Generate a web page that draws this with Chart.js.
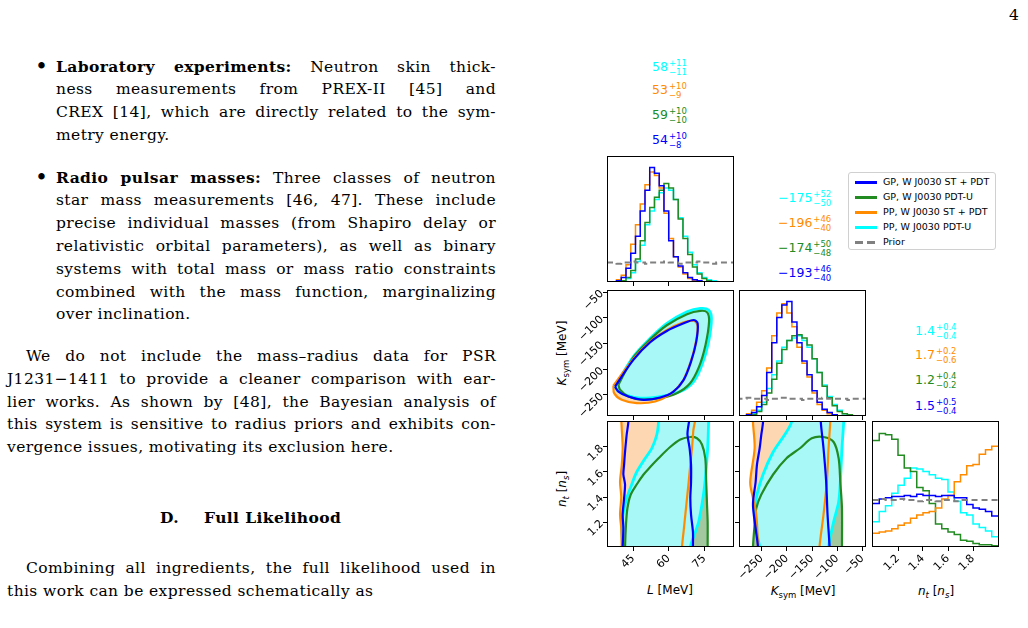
<!DOCTYPE html>
<html>
<head>
<meta charset="utf-8">
<script src="https://cdn.jsdelivr.net/npm/chart.js@4.4.1/dist/chart.umd.min.js"></script>
<style>
  body { margin: 0; width: 1028px; height: 628px; overflow: hidden; position: relative; background: #fff; }
  .t { position: absolute; height: 23px; line-height: 23px; font-family: "DejaVu Serif", serif; font-size: 15.5px; letter-spacing: 0.4px; white-space: nowrap; color: #000; }
  .bul { position: absolute; font-family: "DejaVu Serif", serif; font-size: 22px; line-height: 23px; }
  canvas { position: absolute; }
  .ann { position: absolute; font-family: "DejaVu Sans", sans-serif; font-size: 12.5px; line-height: 18px; white-space: nowrap; }
  .ud { display: inline-block; vertical-align: middle; font-size: 8.5px; line-height: 9px; margin-left: 1px; }
  .ax { position: absolute; font-family: "DejaVu Sans", sans-serif; font-size: 12px; white-space: nowrap; transform: translate(-50%, -50%); }
  .ax sub { font-size: 8.5px; vertical-align: -3px; line-height: 0; }
  #legend { position: absolute; left: 848px; top: 172px; width: 146px; height: 76px; border: 1px solid #d0d0d0; border-radius: 3px; background: #fff; font-family: "DejaVu Sans", sans-serif; font-size: 9.5px; }
  .lg { position: absolute; left: 0; height: 12px; line-height: 12px; white-space: nowrap; }
  .hd { position: absolute; left: 6px; top: 5px; width: 22px; height: 3px; }
  .lg span.tx { position: absolute; left: 34px; top: 0; }
</style>
</head>
<body>

<div class="t" style="left:1009px;top:4px">4</div>

<div class="bul" style="left:35px;top:54.5px">•</div>
<div class="t" data-w="440" style="left:56px;top:54.5px"><b>Laboratory experiments:</b> Neutron skin thick-</div>
<div class="t" data-w="440" style="left:56px;top:77.5px">ness measurements from PREX-II [45] and</div>
<div class="t" data-w="440" style="left:56px;top:100.5px">CREX [14], which are directly related to the sym-</div>
<div class="t" style="left:56px;top:123.5px">metry energy.</div>

<div class="bul" style="left:35px;top:165.5px">•</div>
<div class="t" data-w="440" style="left:56px;top:165.5px"><b>Radio pulsar masses:</b> Three classes of neutron</div>
<div class="t" data-w="440" style="left:56px;top:188.5px">star mass measurements [46, 47]. These include</div>
<div class="t" data-w="440" style="left:56px;top:211.5px">precise individual masses (from Shapiro delay or</div>
<div class="t" data-w="440" style="left:56px;top:234.5px">relativistic orbital parameters), as well as binary</div>
<div class="t" data-w="440" style="left:56px;top:257.5px">systems with total mass or mass ratio constraints</div>
<div class="t" data-w="440" style="left:56px;top:280.5px">combined with the mass function, marginalizing</div>
<div class="t" style="left:56px;top:303px">over inclination.</div>

<div class="t" data-w="470" style="left:26px;top:344.5px">We do not include the mass–radius data for PSR</div>
<div class="t" data-w="489" style="left:7px;top:367.5px">J1231−1411 to provide a cleaner comparison with ear-</div>
<div class="t" data-w="489" style="left:7px;top:390.5px">lier works. As shown by [48], the Bayesian analysis of</div>
<div class="t" data-w="489" style="left:7px;top:412.5px">this system is sensitive to radius priors and exhibits con-</div>
<div class="t" style="left:7px;top:435.5px">vergence issues, motivating its exclusion here.</div>

<div class="t" style="left:160px;top:505.5px"><b>D.</b></div>
<div class="t" style="left:204px;top:505.5px"><b>Full Likelihood</b></div>

<div class="t" data-w="470" style="left:26px;top:556.5px">Combining all ingredients, the full likelihood used in</div>
<div class="t" style="left:7px;top:579.5px">this work can be expressed schematically as</div>

<div id="legend"></div>

<div class="ax" style="left:670px;top:590px"><i>L</i> [MeV]</div>
<div class="ax" style="left:803px;top:591px"><i>K</i><sub>sym</sub> [MeV]</div>
<div class="ax" style="left:936px;top:591px"><i>n</i><sub><i>t</i></sub> [<i>n</i><sub><i>s</i></sub>]</div>
<div class="ax" style="left:562px;top:353px;transform:translate(-50%,-50%) rotate(-90deg)"><i>K</i><sub>sym</sub> [MeV]</div>
<div class="ax" style="left:562px;top:489px;transform:translate(-50%,-50%) rotate(-90deg)"><i>n</i><sub><i>t</i></sub> [<i>n</i><sub><i>s</i></sub>]</div>

<script>
// ---- series ----
const seriesNames = ['GP, W J0030 ST + PDT', 'GP, W J0030 PDT-U', 'PP, W J0030 ST + PDT', 'PP, W J0030 PDT-U', 'Prior'];
const BLUE = '#0000ff', GREEN = '#228b22', ORANGE = '#ff8c00', CYAN = '#00ffff', GREY = '#808080';

// ---- median +/- values (order: cyan, orange, green, blue) ----
const statL = [['58', '+11', '−11'], ['53', '+10', '−9'], ['59', '+10', '−10'], ['54', '+10', '−8']];
const statK = [['−175', '+52', '−50'], ['−196', '+46', '−40'], ['−174', '+50', '−48'], ['−193', '+46', '−40']];
const statN = [['1.4', '+0.4', '−0.4'], ['1.7', '+0.2', '−0.6'], ['1.2', '+0.4', '−0.2'], ['1.5', '+0.5', '−0.4']];

// ---- tick labels ----
const lTicks = [45, 60, 75];
const kTicks = [-250, -200, -150, -100, -50];
const nTicks = [1.2, 1.4, 1.6, 1.8];

// ---- 1D histograms: L [MeV] ----
const lEdges = [34, 36, 38, 40, 42, 44, 46, 48, 50, 52, 54, 56, 58, 60, 62, 64, 66, 68, 70, 72, 74, 76, 78, 80, 82, 84, 86, 88];
const lBlue   = [0, 0, 0.01, 0.04, 0.12, 0.25, 0.40, 0.62, 0.80, 1.00, 0.95, 0.84, 0.62, 0.36, 0.22, 0.14, 0.08, 0.04, 0.02, 0.01, 0, 0, 0, 0, 0, 0, 0];
const lOrange = [0, 0, 0.02, 0.06, 0.15, 0.33, 0.50, 0.68, 0.85, 0.96, 0.93, 0.82, 0.60, 0.38, 0.22, 0.13, 0.07, 0.03, 0.01, 0, 0, 0, 0, 0, 0, 0, 0];
const lGreen  = [0, 0, 0, 0.01, 0.04, 0.10, 0.20, 0.36, 0.52, 0.65, 0.74, 0.80, 0.86, 0.82, 0.72, 0.55, 0.38, 0.24, 0.13, 0.07, 0.03, 0.01, 0, 0, 0, 0, 0];
const lCyan   = [0, 0, 0, 0, 0.03, 0.08, 0.18, 0.32, 0.50, 0.62, 0.72, 0.78, 0.82, 0.80, 0.72, 0.56, 0.40, 0.26, 0.15, 0.08, 0.04, 0.02, 0.01, 0, 0, 0, 0];
const lPrior  = [0.17, 0.17, 0.16, 0.17, 0.17, 0.18, 0.17, 0.17, 0.16, 0.17, 0.17, 0.17, 0.18, 0.17, 0.17, 0.16, 0.17, 0.17, 0.17, 0.18, 0.17, 0.17, 0.16, 0.17, 0.17, 0.17, 0.17];

// ---- 1D histograms: Ksym [MeV] ----
const kEdges = [-300, -290, -280, -270, -260, -250, -240, -230, -220, -210, -200, -190, -180, -170, -160, -150, -140, -130, -120, -110, -100, -90, -80, -70, -60, -50, -40];
const kBlue   = [0, 0, 0.01, 0.03, 0.08, 0.18, 0.38, 0.64, 0.86, 0.97, 1.00, 0.82, 0.64, 0.48, 0.36, 0.22, 0.12, 0.06, 0.03, 0.01, 0, 0, 0, 0, 0, 0];
const kOrange = [0, 0, 0.02, 0.05, 0.12, 0.22, 0.42, 0.70, 0.90, 0.98, 0.90, 0.78, 0.60, 0.46, 0.34, 0.20, 0.10, 0.05, 0.02, 0.01, 0, 0, 0, 0, 0, 0];
const kGreen  = [0, 0, 0, 0.01, 0.04, 0.10, 0.20, 0.32, 0.46, 0.58, 0.66, 0.70, 0.71, 0.68, 0.62, 0.50, 0.38, 0.26, 0.16, 0.09, 0.04, 0.02, 0.01, 0, 0, 0];
const kCyan   = [0, 0, 0, 0.02, 0.05, 0.12, 0.24, 0.36, 0.48, 0.60, 0.66, 0.68, 0.70, 0.66, 0.60, 0.50, 0.38, 0.27, 0.17, 0.10, 0.05, 0.02, 0.01, 0, 0, 0];
const kPrior  = [0.15, 0.15, 0.16, 0.15, 0.15, 0.15, 0.14, 0.15, 0.15, 0.16, 0.15, 0.15, 0.15, 0.14, 0.15, 0.15, 0.15, 0.16, 0.15, 0.15, 0.15, 0.15, 0.14, 0.15, 0.15, 0.15];

// ---- 1D histograms: n_t [n_s] ----
const nEdges = [1.00, 1.05, 1.10, 1.15, 1.20, 1.25, 1.30, 1.35, 1.40, 1.45, 1.50, 1.55, 1.60, 1.65, 1.70, 1.75, 1.80, 1.85, 1.90, 1.95, 2.00];
const nBlue   = [0.38, 0.42, 0.43, 0.44, 0.44, 0.45, 0.44, 0.46, 0.45, 0.45, 0.44, 0.45, 0.45, 0.43, 0.43, 0.37, 0.34, 0.33, 0.31, 0.27];
const nOrange = [0.12, 0.13, 0.14, 0.16, 0.19, 0.21, 0.25, 0.28, 0.30, 0.31, 0.34, 0.42, 0.45, 0.57, 0.63, 0.71, 0.72, 0.81, 0.85, 0.88];
const nGreen  = [0.93, 0.99, 0.98, 0.94, 0.80, 0.69, 0.66, 0.52, 0.49, 0.38, 0.20, 0.16, 0.13, 0.11, 0.06, 0.05, 0.03, 0.02, 0.02, 0.01];
const nCyan   = [0.22, 0.31, 0.36, 0.47, 0.54, 0.60, 0.69, 0.68, 0.66, 0.63, 0.60, 0.59, 0.48, 0.40, 0.30, 0.28, 0.20, 0.17, 0.14, 0.09];
const nPrior  = [0.41, 0.42, 0.41, 0.41, 0.42, 0.41, 0.41, 0.40, 0.41, 0.41, 0.40, 0.41, 0.41, 0.40, 0.41, 0.41, 0.41, 0.41, 0.41, 0.41];

// ---- 2D credible contours (L, Ksym) ----
const lkBlue   = [[37.4, -233.7], [45.1, -181.9], [52.2, -147.6], [59.2, -125.7], [66.3, -110.8], [70.5, -104.3], [72.2, -110.8], [71.6, -146.4], [69.4, -185.2], [66.3, -220.7], [62.0, -243.4], [56.4, -255.0], [49.4, -259.5], [43.0, -253.1], [38.8, -243.4]];
const lkOrange = [[36.7, -231.7], [45.1, -180.0], [52.2, -146.4], [59.2, -123.8], [66.3, -108.8], [70.8, -106.3], [72.2, -117.3], [71.2, -152.8], [68.8, -191.6], [65.6, -225.3], [60.6, -248.5], [54.3, -262.8], [46.5, -266.0], [40.2, -259.5], [37.0, -246.6]];
const lkGreen  = [[38.8, -230.4], [45.1, -177.0], [52.2, -142.0], [59.2, -114.5], [67.7, -93.0], [73.3, -86.5], [76.2, -89.5], [77.0, -107.6], [75.5, -152.8], [72.8, -194.9], [69.0, -227.2], [63.4, -246.6], [56.4, -256.3], [48.7, -259.0], [43.0, -253.1], [39.5, -240.1]];
const lkCyan   = [[37.4, -233.7], [45.1, -175.5], [52.2, -139.9], [59.2, -110.8], [67.7, -88.2], [73.3, -81.7], [76.8, -84.9], [78.0, -101.1], [76.8, -146.4], [74.0, -191.6], [70.5, -224.0], [64.9, -243.4], [56.4, -253.1], [48.0, -256.3], [41.6, -249.8], [38.1, -240.1]];

// ---- 2D credible contours (L, n_t) ----
const lnBlue   = [[43.0, 2.1], [43.0, 2.0], [42.3, 1.9], [41.6, 1.76], [41.2, 1.66], [40.9, 1.58], [41.6, 1.5], [41.2, 1.39], [40.6, 1.26], [40.9, 1.15], [40.6, 1.0], [40.6, 0.9], [70.2, 0.9], [70.2, 1.0], [70.2, 1.12], [69.4, 1.26], [69.1, 1.39], [69.4, 1.52], [69.4, 1.66], [68.8, 1.79], [67.9, 1.9], [67.9, 2.1]];
const lnOrange = [[39.8, 2.1], [40.2, 1.95], [40.6, 1.79], [40.2, 1.65], [39.5, 1.52], [40.0, 1.40], [39.5, 1.26], [40.0, 1.15], [40.2, 1.0], [40.2, 0.9], [65.6, 0.9], [65.6, 1.0], [66.3, 1.13], [67.0, 1.26], [67.7, 1.39], [68.4, 1.52], [69.1, 1.66], [69.8, 1.79], [70.3, 1.92], [70.5, 2.1]];
const lnGreen  = [[41.6, 0.9], [41.6, 1.0], [42.0, 1.18], [42.6, 1.31], [44.0, 1.42], [46.5, 1.5], [49.4, 1.58], [52.2, 1.64], [55.7, 1.71], [60.6, 1.8], [64.9, 1.86], [69.1, 1.88], [71.9, 1.87], [74.0, 1.82], [75.4, 1.71], [75.8, 1.52], [76.1, 1.36], [76.4, 1.2], [76.4, 1.0], [76.4, 0.9]];
const lnCyan   = [[55.7, 2.1], [55.7, 2.0], [55.0, 1.9], [52.9, 1.79], [50.1, 1.71], [46.5, 1.6], [44.4, 1.5], [42.3, 1.39], [40.9, 1.28], [40.2, 1.18], [40.6, 1.0], [40.6, 0.9], [69.1, 0.9], [69.1, 1.0], [71.2, 1.12], [72.6, 1.2], [74.0, 1.34], [75.0, 1.47], [75.8, 1.63], [76.4, 1.79], [76.8, 2.0], [76.8, 2.1]];

// ---- 2D credible contours (Ksym, n_t) ----
const knBlue   = [[-247.3, 2.1], [-247.3, 2.0], [-250.7, 1.9], [-254, 1.79], [-259.3, 1.66], [-262, 1.52], [-267.3, 1.34], [-262, 1.15], [-257.3, 1.0], [-257.3, 0.9], [-115.3, 0.9], [-115.3, 1.0], [-119.3, 1.26], [-122, 1.52], [-127.3, 1.79], [-132.7, 2.0], [-132.7, 2.1]];
const knOrange = [[-267.3, 2.1], [-267.3, 2.0], [-264, 1.79], [-272.7, 1.52], [-267.3, 1.39], [-260.7, 1.26], [-257.3, 1.0], [-257.3, 0.9], [-135.3, 0.9], [-135.3, 1.0], [-127.3, 1.26], [-120.7, 1.52], [-117.3, 1.79], [-114, 2.0], [-114, 2.1]];
const knGreen  = [[-267.3, 0.9], [-267.3, 1.0], [-264, 1.18], [-260.7, 1.31], [-250.7, 1.42], [-227.3, 1.58], [-200.7, 1.71], [-174, 1.79], [-150.7, 1.87], [-127.3, 1.88], [-107.3, 1.84], [-97.3, 1.71], [-94, 1.52], [-90.7, 1.31], [-90.7, 1.0], [-90.7, 0.9]];
const knCyan   = [[-190.7, 2.1], [-190.7, 2.0], [-204, 1.9], [-227.3, 1.76], [-247.3, 1.58], [-260.7, 1.39], [-264, 1.2], [-254, 1.0], [-254, 0.9], [-117.3, 0.9], [-117.3, 1.0], [-107.3, 1.2], [-97.3, 1.36], [-94, 1.52], [-90.7, 1.79], [-87.3, 2.0], [-87.3, 2.1]];

// ---- text justification for the left column ----
document.querySelectorAll('.t[data-w]').forEach(el => {
  const w = +el.dataset.w
  const nat = el.getBoundingClientRect().width
  const n = (el.textContent.match(/ /g) || []).length
  if (n) el.style.wordSpacing = ((w - nat) / n) + 'px'
})

// ---- legend ----
const legend = document.getElementById('legend')
const legendColors = [BLUE, GREEN, ORANGE, CYAN, GREY]
seriesNames.forEach((name, i) => {
  const row = document.createElement('div')
  row.className = 'lg'
  row.style.top = (3 + i * 15) + 'px'
  const bg = (i === 4) ? `repeating-linear-gradient(90deg, ${GREY} 0 8px, transparent 8px 12px)` : legendColors[i]
  row.innerHTML = `<span class="hd" style="background:${bg}"></span><span class="tx">${name}</span>`
  legend.appendChild(row)
})

// ---- median annotations ----
const statColors = [CYAN, ORANGE, GREEN, BLUE]
function addStats(stats, left, tops) {
  stats.forEach((s, i) => {
    const d = document.createElement('div')
    d.className = 'ann'
    d.style.left = left + 'px'
    d.style.top = (tops[i] - 9) + 'px'
    d.style.color = statColors[i]
    d.innerHTML = `${s[0]}<span class="ud">${s[1]}<br>${s[2]}</span>`
    document.body.appendChild(d)
  })
}
addStats(statL, 652, [67, 90, 115, 140])
addStats(statK, 778, [198, 223, 248, 273])
addStats(statN, 915, [331, 355, 380, 406])

// ---- corner panels ----
const PW = 127, PH = 126, ML = 50, MB = 50, PAD = 3
const colX = [607, 739, 872], rowY = [156, 290, 421]
const lRange = [34, 87.5], kxRange = [-295, -43], kyRange = [-291, -46], nxRange = [0.992, 2.008], nyRange = [1.0, 2.008], hRange = [0, 1.1]

const fmt = v => (v < 0 ? '−' + Math.abs(v) : String(v))

function axis(dir, range, ticks, labels, marks) {
  return {
    type: 'linear', min: range[0], max: range[1],
    position: dir === 'x' ? 'bottom' : 'left',
    afterBuildTicks: s => { s.ticks = ticks.map(v => ({ value: v })) },
    afterFit: s => {
      if (dir === 'x') s.height = MB; else s.width = ML
      s.paddingLeft = 0; s.paddingRight = 0; s.paddingTop = 0; s.paddingBottom = 0
    },
    grid: { display: marks, drawOnChartArea: false, drawTicks: true, tickLength: 4, color: '#000', tickColor: '#000', lineWidth: 1 },
    border: { display: false },
    ticks: { display: labels, autoSkip: false, minRotation: 45, maxRotation: 45, padding: 1, color: '#000',
      font: { family: 'DejaVu Sans', size: 11 }, callback: v => fmt(v) }
  }
}

const frame = {
  id: 'frame',
  afterDatasetsDraw(chart) {
    const { ctx, chartArea: a } = chart
    ctx.save()
    ctx.strokeStyle = '#000'
    ctx.lineWidth = 1
    ctx.strokeRect(a.left + 0.5, a.top + 0.5, a.right - a.left - 1, a.bottom - a.top - 1)
    ctx.restore()
  }
}

function steps(edges, vals) {
  let pts = vals.map((v, i) => ({ x: edges[i], y: v }))
  pts.push({ x: edges[edges.length - 1], y: vals[vals.length - 1] })
  return pts
}
function histSet(edges, vals, color) {
  return { data: steps(edges, vals), borderColor: color, borderWidth: 1.5, stepped: 'before', pointRadius: 0, fill: false }
}
function priorSet(edges, vals) {
  return { data: steps(edges, vals), borderColor: GREY, borderWidth: 2, borderDash: [6, 4], stepped: 'before', pointRadius: 0, fill: false }
}
function closed(pairs) {
  let pts = pairs.map(p => ({ x: p[0], y: p[1] }))
  pts.push({ x: pairs[0][0], y: pairs[0][1] })
  return pts
}
function lineSet(pairs, color, w) {
  return { data: closed(pairs), borderColor: color, borderWidth: w, pointRadius: 0, fill: false, tension: 0.3 }
}
function fillSet(pairs, color) {
  return { data: closed(pairs), borderColor: 'rgba(0,0,0,0)', borderWidth: 0, backgroundColor: color, pointRadius: 0, fill: 'shape', tension: 0.3 }
}
function contourSets(b, o, g, c) {
  // lines first (drawn on top), fills after (cyan fill ends on top of other fills)
  return [
    lineSet(b, BLUE, 2.2), lineSet(o, ORANGE, 2.2), lineSet(g, GREEN, 2.2), lineSet(c, CYAN, 2.8),
    fillSet(c, '#a8f8f8'), fillSet(o, '#fdd7b2'), fillSet(g, '#a3c79e'), fillSet(b, '#c4c4ff')
  ]
}

function panel(col, row, datasets, xs, ys) {
  const c = document.createElement('canvas')
  c.width = ML + PW + PAD
  c.height = PAD + PH + MB
  c.style.left = (colX[col] - ML) + 'px'
  c.style.top = (rowY[row] - PAD) + 'px'
  document.body.appendChild(c)
  new Chart(c, {
    type: 'line',
    data: { datasets: datasets },
    options: {
      responsive: false, animation: false, devicePixelRatio: 1, events: [],
      layout: { padding: { top: PAD, right: PAD, left: 0, bottom: 0 } },
      elements: { line: { capBezierPoints: false }, point: { radius: 0 } },
      plugins: { legend: { display: false }, tooltip: { enabled: false }, filler: { drawTime: 'beforeDatasetsDraw' } },
      scales: { x: xs, y: ys }
    },
    plugins: [frame]
  })
}

const hy = () => axis('y', hRange, [0.5], false, false)

panel(0, 0, [priorSet(lEdges, lPrior), histSet(lEdges, lBlue, BLUE), histSet(lEdges, lOrange, ORANGE), histSet(lEdges, lGreen, GREEN), histSet(lEdges, lCyan, CYAN)],
  axis('x', lRange, lTicks, false, true), hy())

panel(0, 1, contourSets(lkBlue, lkOrange, lkGreen, lkCyan),
  axis('x', lRange, lTicks, false, true), axis('y', kyRange, kTicks, true, true))

panel(0, 2, contourSets(lnBlue, lnOrange, lnGreen, lnCyan),
  axis('x', lRange, lTicks, true, true), axis('y', nyRange, nTicks, true, true))

panel(1, 1, [priorSet(kEdges, kPrior), histSet(kEdges, kBlue, BLUE), histSet(kEdges, kOrange, ORANGE), histSet(kEdges, kGreen, GREEN), histSet(kEdges, kCyan, CYAN)],
  axis('x', kxRange, kTicks, false, true), hy())

panel(1, 2, contourSets(knBlue, knOrange, knGreen, knCyan),
  axis('x', kxRange, kTicks, true, true), axis('y', nyRange, nTicks, false, true))

panel(2, 2, [priorSet(nEdges, nPrior), histSet(nEdges, nBlue, BLUE), histSet(nEdges, nOrange, ORANGE), histSet(nEdges, nGreen, GREEN), histSet(nEdges, nCyan, CYAN)],
  axis('x', nxRange, nTicks, true, true), hy())
</script>
</body>
</html>
